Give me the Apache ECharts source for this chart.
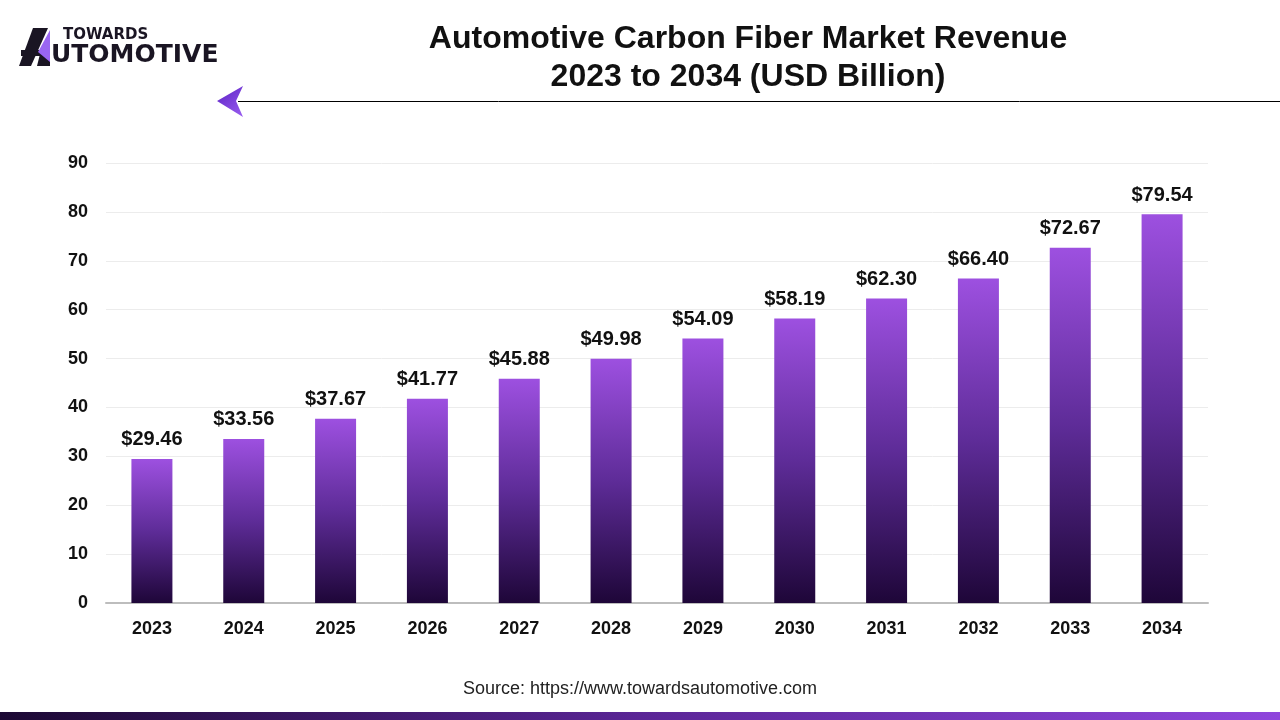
<!DOCTYPE html>
<html>
<head>
<meta charset="utf-8">
<script src="https://cdn.jsdelivr.net/npm/echarts@6/dist/echarts.min.js"></script>
<style>
html,body{margin:0;padding:0;background:#fff;}
#c{width:1280px;height:720px;}
</style>
</head>
<body>
<div id="c"></div>
<script>
const years = ['2023','2024','2025','2026','2027','2028','2029','2030','2031','2032','2033','2034'];
const revenue = [29.46, 33.56, 37.67, 41.77, 45.88, 49.98, 54.09, 58.19, 62.30, 66.40, 72.67, 79.54];
const yTicks = { min: 0, max: 90, interval: 10 };
const titleLines = ['Automotive Carbon Fiber Market Revenue', '2023 to 2034 (USD Billion)'];
const sourceText = 'Source: https://www.towardsautomotive.com';

const FONT = '"Liberation Sans", Arial, Helvetica, sans-serif';
const LOGOFONT = '"DejaVu Sans", "Liberation Sans", sans-serif';
const chart = echarts.init(document.getElementById('c'), null, {renderer: 'canvas'});

chart.setOption({
  backgroundColor: '#ffffff',
  animation: false,
  grid: { left: 106, right: 72, top: 163, bottom: 117, outerBoundsMode: 'none', containLabel: false },
  xAxis: {
    type: 'category',
    data: years,
    axisLine: { show: true, lineStyle: { color: '#bdbdbd', width: 2 } },
    axisTick: { show: false },
    axisLabel: { color: '#111', fontSize: 18, fontWeight: 'bold', fontFamily: FONT, margin: 17 }
  },
  yAxis: {
    type: 'value',
    min: yTicks.min, max: yTicks.max, interval: yTicks.interval,
    axisLine: { show: false },
    axisTick: { show: false },
    splitLine: { lineStyle: { color: '#ececec', width: 1 } },
    axisLabel: { color: '#111', fontSize: 18, fontWeight: 'bold', fontFamily: FONT, margin: 18 }
  },
  series: [{
    type: 'bar',
    data: revenue,
    barWidth: 41,
    itemStyle: {
      color: new echarts.graphic.LinearGradient(0, 0, 0, 1, [
        { offset: 0, color: '#9d50e0' },
        { offset: 0.5, color: '#5e2c98' },
        { offset: 1, color: '#1e0638' }
      ])
    },
    label: {
      show: true,
      position: 'top',
      distance: 9,
      formatter: p => '$' + p.value.toFixed(2),
      color: '#111',
      fontSize: 20,
      fontWeight: 'bold',
      fontFamily: FONT
    }
  }],
  graphic: [
    { type: 'text', style: {
        text: titleLines.join('\n'), x: 748, y: 20, textAlign: 'center', fill: '#111',
        font: 'bold 32px ' + FONT, lineHeight: 38 } },
    { type: 'text', style: { text: sourceText, x: 640, y: 680, textAlign: 'center', fill: '#222', font: '18px ' + FONT } },
    { type: 'rect', shape: { x: 0, y: 712, width: 1280, height: 8 },
      style: { fill: new echarts.graphic.LinearGradient(0, 0, 1, 0, [
        { offset: 0, color: '#1c0934' }, { offset: 0.5, color: '#5a2596' }, { offset: 1, color: '#8f45dc' }]) } },
    // header line + arrow
    { type: 'line', shape: { x1: 238, y1: 101.5, x2: 1280, y2: 101.5 }, style: { stroke: '#000', lineWidth: 1 } },
    { type: 'polygon', shape: { points: [[217,101],[243,86],[236,101],[243,117]] },
      style: { fill: new echarts.graphic.LinearGradient(0, 0, 1, 1, [
        { offset: 0, color: '#5b21c4' }, { offset: 1, color: '#9a5ef0' }]) } },
    // logo
    { type: 'polygon', shape: { points: [[33,28],[48,28],[31,66],[19,66]] }, style: { fill: '#1a1523' } },
    { type: 'polygon', shape: { points: [[21,50],[44,50],[42,56],[21,56]] }, style: { fill: '#1a1523' } },
    { type: 'polygon', shape: { points: [[40,54],[50,54],[50,66],[37,66]] }, style: { fill: '#1a1523' } },
    { type: 'polygon', shape: { points: [[50,30],[50,62],[38,52]] }, style: { fill: '#9a66f2' } },
    { type: 'text', style: { text: 'TOWARDS', x: 63, y: 28, fill: '#1a1523', font: 'bold 15px ' + LOGOFONT } },
    { type: 'text', style: { text: 'UTOMOTIVE', x: 51, y: 43, fill: '#1a1523', font: 'bold 25px ' + LOGOFONT } }
  ]
});
</script>
</body>
</html>
